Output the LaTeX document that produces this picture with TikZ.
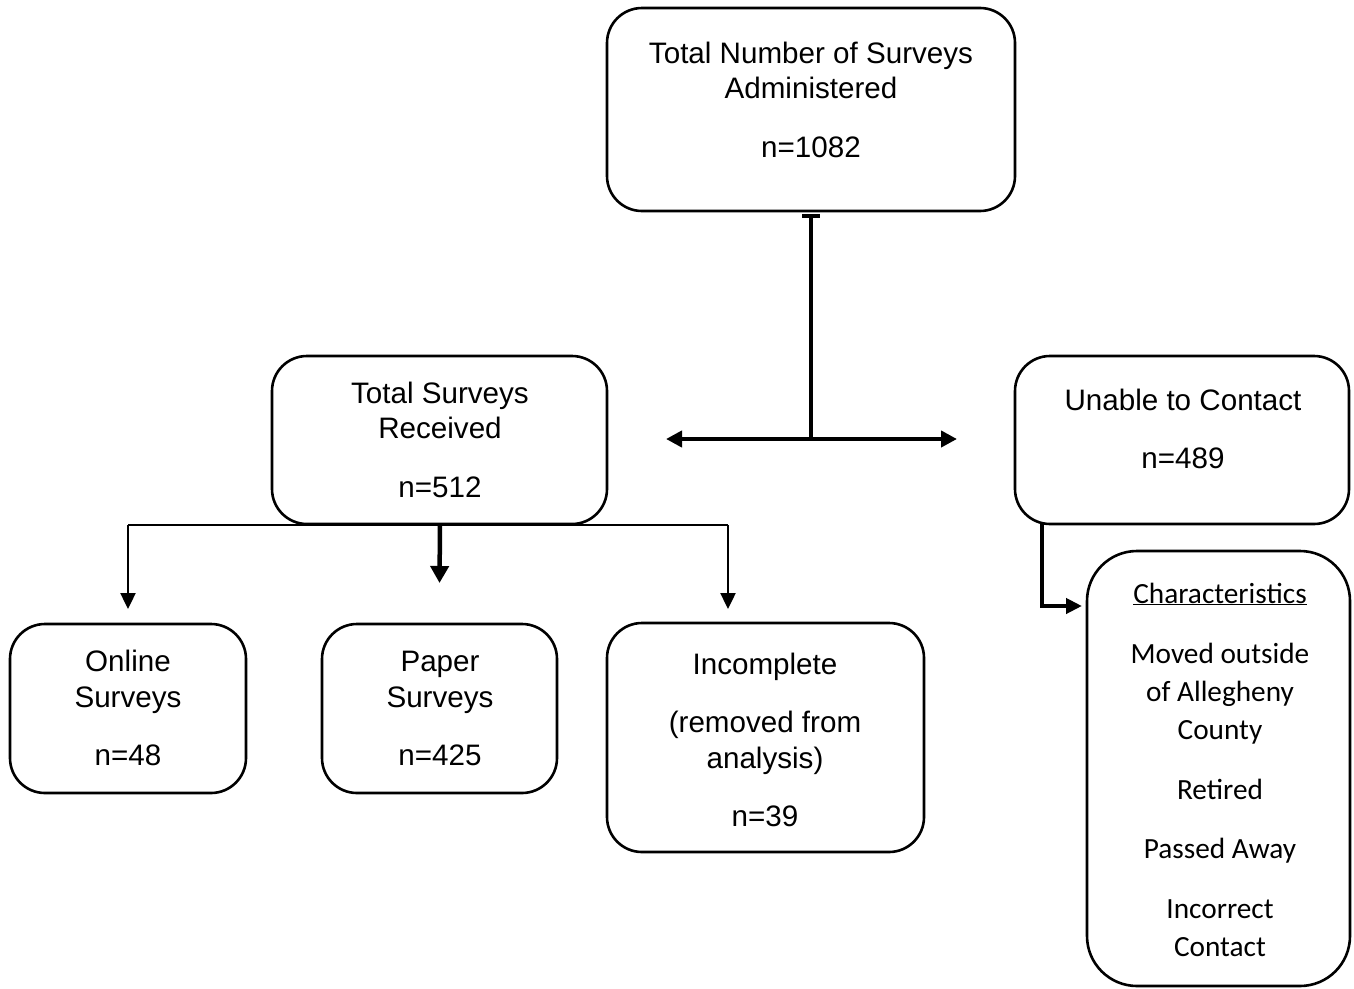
\documentclass[tikz,border=0pt]{standalone}
\usepackage{fontspec}
\setmainfont{Liberation Sans}
\newfontfamily\calfont{Carlito}
\usetikzlibrary{arrows.meta}
\begin{document}
\begin{tikzpicture}[x=1pt,y=-1pt,
  box/.style={draw, line width=2.6pt, rounded corners=35pt, inner sep=0pt, outer sep=0pt, rectangle},
  txt/.style={anchor=base, inner sep=0pt, font=\fontsize{29.6}{35}\selectfont},
  ctxt/.style={anchor=base, inner sep=0pt, font=\calfont\fontsize{29.3}{35}\selectfont},
  thinline/.style={line width=2.4pt},
  boldline/.style={line width=4.2pt},
  arr/.style={-{Triangle[length=16pt,width=15pt]}},
  arrb/.style={-{Triangle[length=17pt,width=18pt]}}
]
\useasboundingbox (0,0) rectangle (1354,988);

% boxes
\node[box, minimum width=408pt, minimum height=203pt] (top) at (811,109.5) {};
\node[box, minimum width=335pt, minimum height=168pt] (recv) at (439.5,440) {};
\node[box, minimum width=334pt, minimum height=168pt] (unable) at (1182,440) {};
\node[box, minimum width=236pt, minimum height=169pt] (online) at (128,708.5) {};
\node[box, minimum width=235pt, minimum height=169pt] (paper) at (439.5,708.5) {};
\node[box, minimum width=317pt, minimum height=229pt] (incomp) at (765.5,737.5) {};
\node[box, rounded corners=50pt, minimum width=263pt, minimum height=435pt] (chars) at (1218.5,768.5) {};

% texts
\node[txt] (top1) at (811,63) {Total Number of Surveys};
\node[txt] (top2) at (811,98) {Administered};
\node[txt] (top3) at (811,157) {n=1082};

\node[txt] (rec1) at (440,403) {Total Surveys};
\node[txt] (rec2) at (440,438) {Received};
\node[txt] (rec3) at (440,497) {n=512};

\node[txt] (un1) at (1183,410) {Unable to Contact};
\node[txt] (un2) at (1183,468) {n=489};

\node[txt] (on1) at (128,671) {Online};
\node[txt] (on2) at (128,707) {Surveys};
\node[txt] (on3) at (128,765) {n=48};

\node[txt] (pa1) at (440,671) {Paper};
\node[txt] (pa2) at (440,707) {Surveys};
\node[txt] (pa3) at (440,765) {n=425};

\node[txt] (in1) at (765,674) {Incomplete};
\node[txt] (in2) at (765,732) {(removed from};
\node[txt] (in3) at (765,768) {analysis)};
\node[txt] (in4) at (765,826) {n=39};

\node[ctxt] (ch1) at (1220,603) {\underline{Characteristics}};
\node[ctxt] (ch2) at (1220,663) {Moved outside};
\node[ctxt] (ch3) at (1220,701) {of Allegheny};
\node[ctxt] (ch4) at (1220,739) {County};
\node[ctxt] (ch5) at (1220,799) {Retired};
\node[ctxt] (ch6) at (1220,858) {Passed Away};
\node[ctxt] (ch7) at (1220,918) {Incorrect};
\node[ctxt] (ch8) at (1220,956) {Contact};

% top connector
\coordinate (tb) at (811,216);
\coordinate (hub) at (811,439);
\coordinate (lt) at (666,439);
\coordinate (rt) at (957,439);
\draw[boldline] (tb) -- (hub);
\draw[line width=4pt] ([xshift=-9pt]tb) -- ([xshift=9pt]tb);
\draw[boldline, {Triangle[length=16pt,width=16pt]}-{Triangle[length=16pt,width=16pt]}] (lt) -- (rt);

% branches from received
\coordinate (bl) at (128,525);
\coordinate (bc) at (440,525);
\coordinate (br) at (728,525);
\coordinate (a3) at (728,609);
\draw[thinline] (bl) -- (br);
\draw[thinline, arr] (bl) -- ([yshift=15pt]online.north);
\draw[line width=4.5pt, arrb] (bc) -- ([yshift=41pt]paper.north);
\draw[thinline, arr] (br) -- (a3);

% unable -> characteristics
\coordinate (u1) at (1042,524);
\coordinate (u2) at (1082,606);
\draw[boldline, arr, line join=miter] (u1) |- (u2);
\end{tikzpicture}
\end{document}
